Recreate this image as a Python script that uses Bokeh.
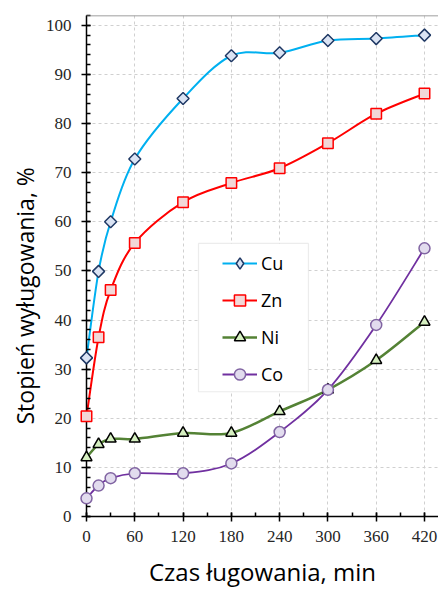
import math
from bokeh.plotting import figure
from bokeh.models import (Range1d, SingleIntervalTicker, Legend, LegendItem,
                          BoxAnnotation, Span, Title)
from bokeh.embed import file_html
from bokeh.resources import INLINE

# Leaching time, min
time_min = [0, 15, 30, 60, 120, 180, 240, 300, 360, 420]

# Degree of leaching, %
cu = [32.3, 49.9, 60.0, 72.8, 85.1, 93.8, 94.4, 96.9, 97.3, 98.0]
zn = [20.4, 36.5, 46.1, 55.7, 64.0, 67.9, 70.9, 76.0, 82.0, 86.1]
ni = [12.0, 14.7, 15.8, 15.8, 17.0, 17.0, 21.4, 25.8, 31.8, 39.6]
co = [3.7, 6.3, 7.8, 8.8, 8.8, 10.8, 17.2, 25.8, 39.0, 54.6]

series_names = ["Cu", "Zn", "Ni", "Co"]

X_TITLE = "Czas ługowania, min"
Y_TITLE = "Stopień wyługowania, %"

FONT = "Open Sans"
TICK_FONT = "Liberation Sans Narrow"
NAN = float("nan")


def smooth_segments(xs, ys, t=1.0 / 6.0):
    """Cubic Bezier control points for a smoothed polyline (Catmull-Rom style)."""
    n = len(xs)
    out = dict(x0=[], y0=[], x1=[], y1=[], cx0=[], cy0=[], cx1=[], cy1=[])
    for i in range(n - 1):
        ip = max(i - 1, 0)
        inn = min(i + 2, n - 1)
        out["x0"].append(xs[i]); out["y0"].append(ys[i])
        out["x1"].append(xs[i + 1]); out["y1"].append(ys[i + 1])
        out["cx0"].append(xs[i] + (xs[i + 1] - xs[ip]) * t)
        out["cy0"].append(ys[i] + (ys[i + 1] - ys[ip]) * t)
        out["cx1"].append(xs[i + 1] - (xs[inn] - xs[i]) * t)
        out["cy1"].append(ys[i + 1] - (ys[inn] - ys[i]) * t)
    return out


p = figure(width=438, height=591, output_backend="svg", toolbar_location=None,
           x_range=Range1d(0, 437.4), y_range=Range1d(0, 102.0),
           min_border_left=86, min_border_right=0, min_border_top=15,
           min_border_bottom=75)
p.background_fill_color = "white"
p.border_fill_color = "white"
p.outline_line_color = None

# top edge of the plot area (no right edge)
p.add_layout(Span(location=102.0, dimension="width", line_color="#7f7f7f",
                  line_width=1.5))

# axes
p.xaxis.ticker = SingleIntervalTicker(interval=60, num_minor_ticks=2)
p.yaxis.ticker = SingleIntervalTicker(interval=10, num_minor_ticks=5)
for ax in (p.xaxis[0], p.yaxis[0]):
    ax.axis_line_color = "black"
    ax.axis_line_width = 1.5
    ax.major_tick_line_color = "black"
    ax.major_tick_line_width = 1.5
    ax.minor_tick_line_color = "black"
    ax.minor_tick_line_width = 1.5
    ax.major_tick_in = 4
    ax.major_tick_out = 5
    ax.minor_tick_in = 4
    ax.minor_tick_out = 0
    ax.major_label_text_font = TICK_FONT
    ax.major_label_text_font_size = "17px"
    ax.major_label_text_color = "#262626"
p.xaxis.major_label_standoff = 9
p.yaxis.major_label_standoff = 10

p.xaxis.axis_label = X_TITLE
p.xaxis.axis_label_text_font = FONT
p.xaxis.axis_label_text_font_style = "normal"
p.xaxis.axis_label_text_font_size = "24px"
p.xaxis.axis_label_text_color = "black"
p.xaxis.axis_label_standoff = 10

# vertical title, anchored from the bottom of the plot area
p.add_layout(Title(text=Y_TITLE, align="left", offset=92, standoff=4,
                   text_font=FONT, text_font_style="normal",
                   text_font_size="23px", text_color="black"), "left")

# grid
for g in (p.xgrid[0], p.ygrid[0]):
    g.grid_line_color = "#d0d0d0"
    g.grid_line_dash = "3 3"
    g.grid_line_width = 1

styles = {
    "Cu": dict(ys=cu, line="#00b0f0", lw=2.0, marker="square", angle=math.pi / 4,
               size=8.5, key_marker="diamond", fill="#dae3f3", edge="#1f3864"),
    "Zn": dict(ys=zn, line="#ff0000", lw=2.0, marker="square", angle=0.0,
               size=10.5, key_marker="square", fill="#f2d8d8", edge="#ff0000"),
    "Ni": dict(ys=ni, line="#548235", lw=2.5, marker="triangle", angle=0.0,
               size=11, key_marker="triangle", fill="#d5efc0", edge="#000000"),
    "Co": dict(ys=co, line="#7030a0", lw=1.8, marker="circle", angle=0.0,
               size=11, key_marker="circle", fill="#e2dcee", edge="#8064a2"),
}

# legend frame
p.add_layout(BoxAnnotation(left=139.2, right=275.8, bottom=25.4, top=55.6,
                           fill_color="white", fill_alpha=1.0,
                           line_color="#bfbfbf", line_width=1.2, level="underlay"))

items = []
for name in series_names:
    s = styles[name]
    seg = smooth_segments(time_min, s["ys"])
    p.bezier(x0=seg["x0"], y0=seg["y0"], x1=seg["x1"], y1=seg["y1"],
             cx0=seg["cx0"], cy0=seg["cy0"], cx1=seg["cx1"], cy1=seg["cy1"],
             line_color=s["line"], line_width=s["lw"])
    p.scatter(x=time_min, y=s["ys"], marker=s["marker"], angle=s["angle"],
              size=s["size"], fill_color=s["fill"], line_color=s["edge"],
              line_width=1.5, level="overlay")
    # legend-only key glyphs (nothing drawn in the plot area)
    key_line = p.line(x=[NAN, NAN], y=[NAN, NAN], line_color=s["line"],
                      line_width=s["lw"])
    key_pt = p.scatter(x=[NAN], y=[NAN], marker=s["key_marker"],
                       fill_color=s["fill"], line_color=s["edge"], line_width=1.5)
    items.append(LegendItem(label=name, renderers=[key_line, key_pt]))

legend = Legend(items=items, location=(136, 124), padding=0, spacing=0, margin=0,
                glyph_width=35, glyph_height=28, label_height=37,
                label_standoff=4, border_line_alpha=0, background_fill_alpha=0,
                label_text_font=FONT, label_text_font_size="18px",
                label_text_color="black")
p.add_layout(legend)

open("out.html", "w").write(file_html(p, INLINE))
